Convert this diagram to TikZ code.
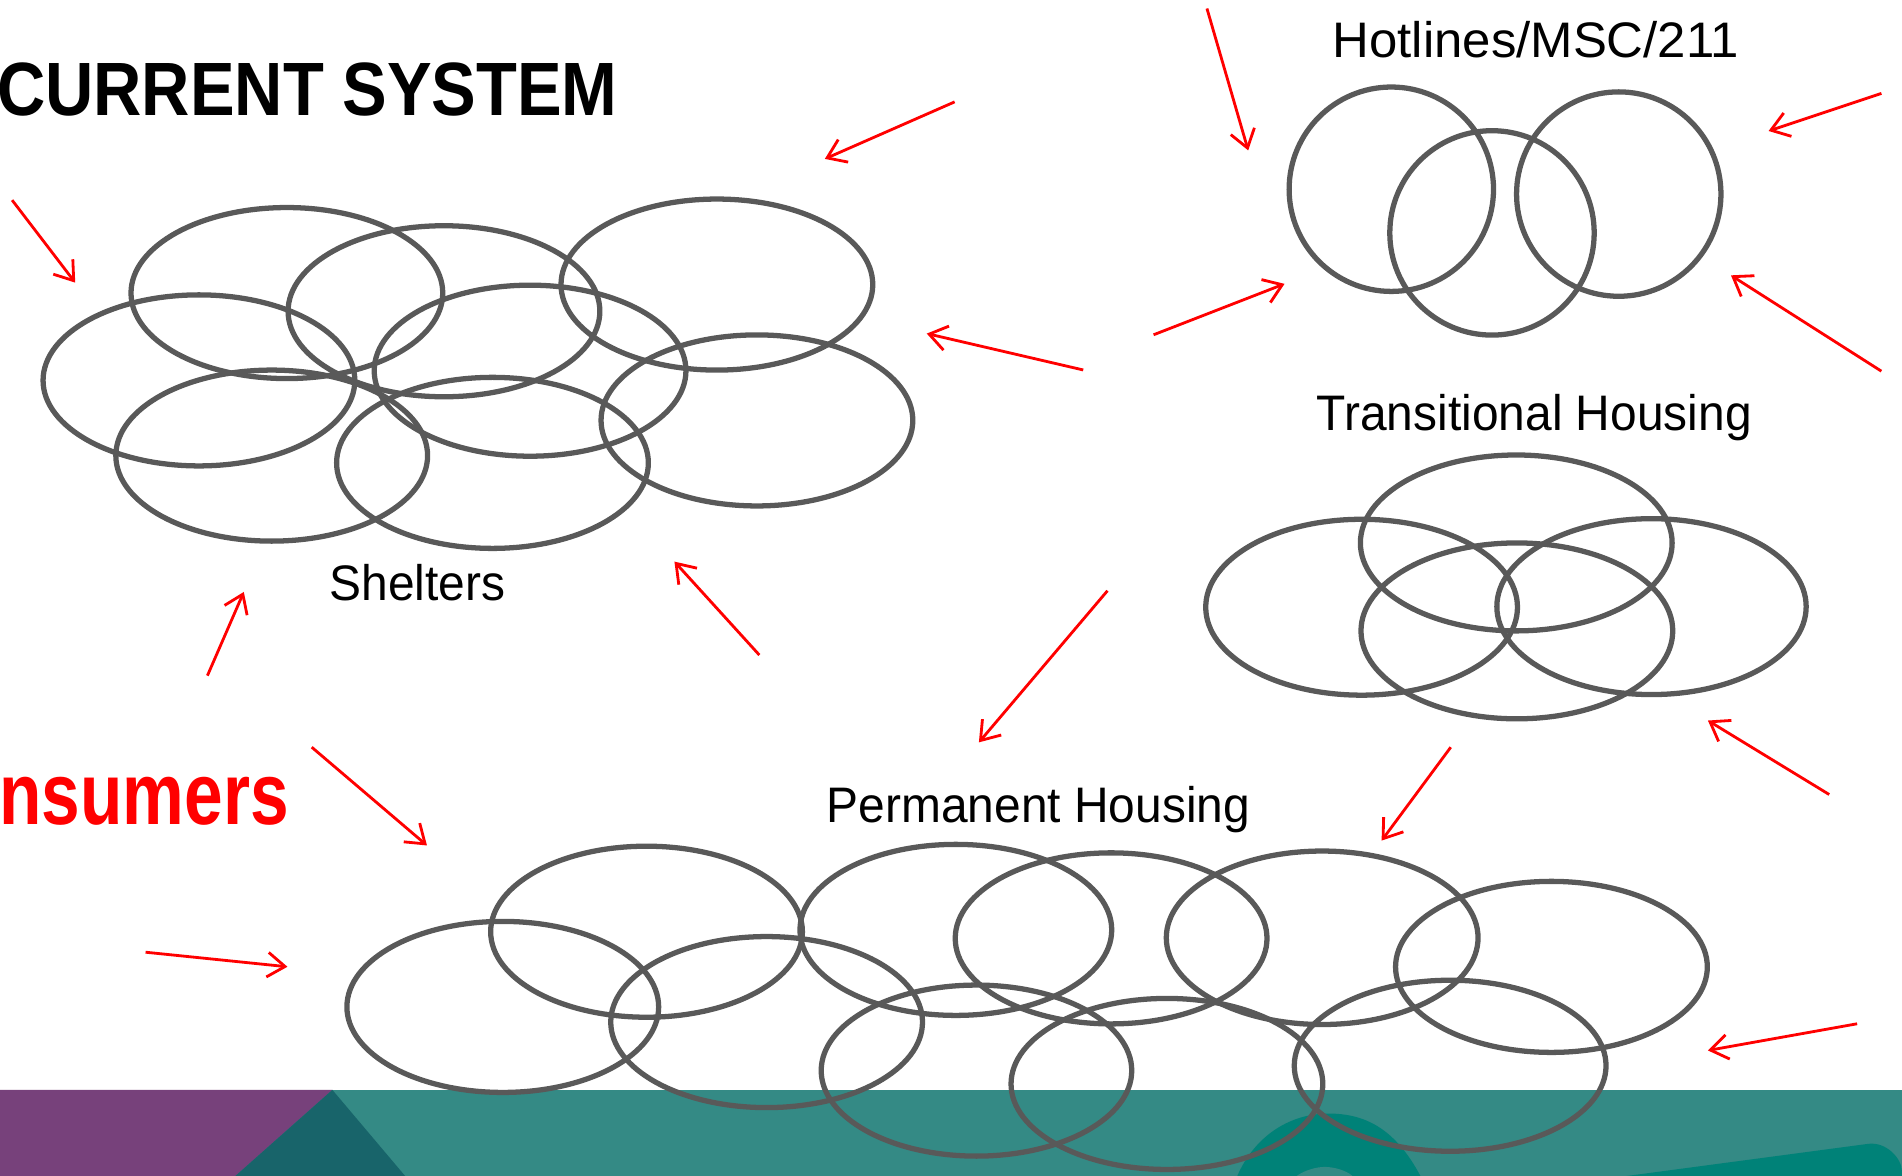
\documentclass[tikz,border=0pt]{standalone}
\usepackage{fontspec}
\usetikzlibrary{shapes.geometric,arrows.meta}
\setmainfont{Liberation Sans}
\newfontfamily\titlefont[FakeStretch=0.885]{Liberation Sans Bold}
\newfontfamily\redfont[FakeStretch=0.79]{Liberation Sans Bold}
\newfontfamily\labelfont[FakeStretch=0.96]{Liberation Sans}
\newfontfamily\hotfont[FakeStretch=1.02]{Liberation Sans}
\def\pu{0.012130cm}
\definecolor{ring}{HTML}{595959}
\definecolor{bandpurple}{HTML}{77417B}
\definecolor{bandteal}{HTML}{348A85}
\definecolor{banddark}{HTML}{18646A}
\definecolor{bandbright}{HTML}{008278}
\tikzset{
  x=\pu, y=-\pu,
  oval/.style={ellipse,draw=ring,line width=1.5pt,inner sep=0pt,minimum width=257*\pu,minimum height=141*\pu,yshift=-0.6*\pu},
  ringc/.style={ellipse,draw=ring,line width=1.5pt,inner sep=0pt,minimum width=168.5*\pu,minimum height=168.5*\pu},
  flow/.style={draw=red,line width=0.8pt,-{Straight Barb[length=5pt,width=7pt,line width=0.8pt]}},
  lbl/.style={anchor=base west,inner sep=0pt,font=\labelfont\fontsize{14.2}{17}\selectfont},
  ttl/.style={anchor=base west,inner sep=0pt,font=\titlefont\fontsize{21.5}{26}\selectfont},
}
\begin{document}
\begin{tikzpicture}
\useasboundingbox (0,0) rectangle (1568,969.5);
% band
\fill[bandteal] (0,898.5) rectangle (1568,969.5);
\fill[bandpurple] (0,898.5) -- (274,898.5) -- (194,969.5) -- (0,969.5) -- cycle;
\fill[banddark] (274,898.5) -- (334,969.5) -- (194,969.5) -- cycle;
\fill[bandbright] (1020,969.5) .. controls (1035,935) and (1065,918) .. (1095,918) .. controls (1125,918) and (1150,930) .. (1171,969.5) -- cycle;
\fill[bandteal] (1069,969.5) .. controls (1075,965) and (1085,962) .. (1092,962) .. controls (1100,962) and (1110,965) .. (1115,969.5) -- cycle;
\fill[bandbright] (1341,969.5) -- (1540,943) .. controls (1555,941) and (1568,955) .. (1568,966) -- (1568,969.5) -- cycle;
% shelters
\node[oval] (s1) at (236.5,241) {};
\node[oval] (s2) at (366,256) {};
\node[oval] (s3) at (591,234) {};
\node[oval] (s4) at (164,313) {};
\node[oval] (s5) at (437,305) {};
\node[oval] (s6) at (624,346) {};
\node[oval] (s7) at (224,375) {};
\node[oval] (s8) at (406,381) {};
% hotlines
\node[ringc] (h1) at (1147,156) {};
\node[ringc] (h2) at (1230,192) {};
\node[ringc] (h3) at (1334.5,160) {};
% transitional
\node[oval,minimum height=145*\pu] (t1) at (1122.5,500) {};
\node[oval,minimum height=145*\pu] (t2) at (1250,447) {};
\node[oval,minimum height=145*\pu] (t3) at (1250.5,519.5) {};
\node[oval,minimum height=145*\pu,minimum width=255*\pu] (t4) at (1361.5,499.5) {};
% permanent
\node[oval] (p1) at (414.5,829.5) {};
\node[oval] (p2) at (533,767.5) {};
\node[oval] (p3) at (632,842) {};
\node[oval] (p4) at (788,766) {};
\node[oval] (p5) at (916,773) {};
\node[oval,minimum height=143*\pu] (p6) at (1090,772.5) {};
\node[oval] (p7) at (1279,796.5) {};
\node[oval,minimum width=256*\pu] (p8) at (805,882) {};
\node[oval] (p9) at (962,893) {};
\node[oval] (p10) at (1195.5,878) {};
% labels
\node[lbl,font=\hotfont\fontsize{14.2}{17}\selectfont] (lh) at (1098,47) {Hotlines/MSC/211};
\node[lbl] (lt) at (1085,355) {Transitional Housing};
\node[lbl] (ls) at (271,495) {Shelters};
\node[lbl] (lp) at (681,678) {Permanent Housing};
\node[ttl] (title) at (-3,95.5) {CURRENT SYSTEM};
\node[ttl,text=red,font=\redfont\fontsize{25}{30}\selectfont] (cons) at (-1,680) {nsumers};
% arrows
\foreach \i/\ax/\ay/\bx/\by in {
 1/995/7/1029/124, 2/787/84/680/131, 3/1551/77/1458/108, 4/10/165/62/233,
 5/951/276/1059/234, 6/893/305/764/275, 7/1551/306/1427/227, 8/171/557/201/488,
 9/626/540/556/463, 10/913/487/807/612, 11/1508/655/1408/594, 12/1196/616/1139/693,
 13/257/616/352/697, 14/120/785/237/797, 15/1531/844/1408/866}{
  \coordinate (a\i) at (\ax,\ay);
  \coordinate (b\i) at (\bx,\by);
  \draw[flow] (a\i) -- (b\i);
}
\end{tikzpicture}
\end{document}
